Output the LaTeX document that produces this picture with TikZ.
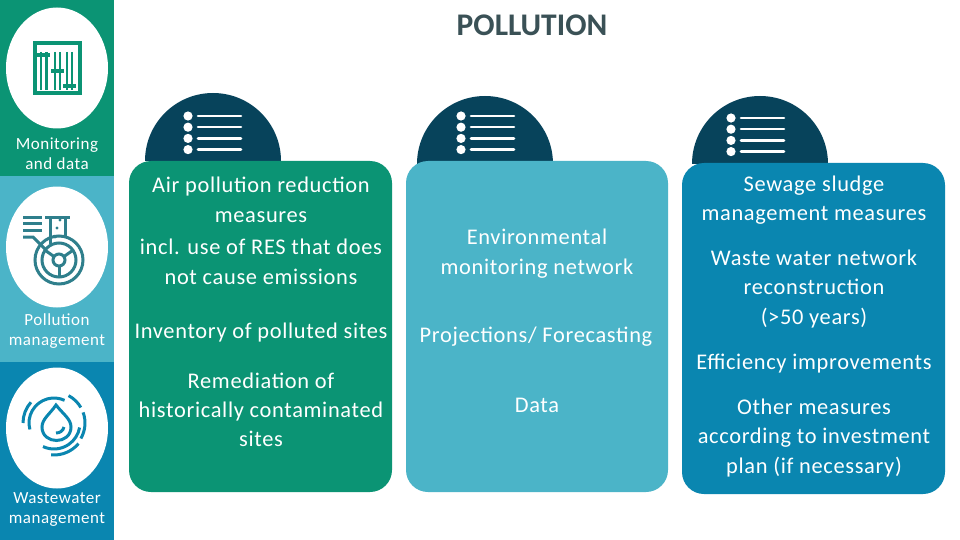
\documentclass[tikz,border=0pt]{standalone}
\usepackage{fontspec}
\setmainfont{Carlito}
\usetikzlibrary{positioning, shapes.geometric}
\definecolor{cgreen}{HTML}{0B9474}
\definecolor{clight}{HTML}{4BB4C8}
\definecolor{cblue}{HTML}{0A86B0}
\definecolor{cdark}{HTML}{07435B}
\definecolor{ctitle}{HTML}{3A5156}
\definecolor{cteal}{HTML}{2F7F8C}
\tikzset{
  panel/.style={fill=#1, rounded corners=22pt},
  band/.style={fill=#1},
  badge/.style={fill=white, ellipse, minimum width=102pt, minimum height=121pt, inner sep=0pt},
  sidetext/.style={font=\fontsize{17}{20}\selectfont\addfontfeature{LetterSpace=3}, text=white, align=center, inner sep=0pt},
  paneltext/.style={font=\fontsize{22.4}{29.3}\selectfont\addfontfeature{LetterSpace=3}, text=white, align=center, inner sep=0pt},
  title/.style={font=\fontsize{31.5}{34}\selectfont\bfseries, text=ctitle, inner sep=0pt},
}
\newcommand{\dome}[4]{
  \fill[cdark] (#1-68,#2) arc[start angle=180, end angle=360, radius=68] -- cycle;
  \foreach \dy in {0,11.2,22.4,33.6} {
    \fill[white] (#3,#4+\dy) circle[radius=4.6];
    \draw[white, line width=2.6pt, line cap=round] (#3+10,#4+\dy) -- (#3+53,#4+\dy);
  }
}
\begin{document}
\begin{tikzpicture}[x=1pt, y=-1pt]
  \useasboundingbox (0,0) rectangle (960,540);
  \fill[white] (0,0) rectangle (960,540);
  % side bands
  \fill[band=cgreen] (0,0) rectangle (114,176);
  \fill[band=clight] (0,176) rectangle (114,362);
  \fill[band=cblue] (0,362) rectangle (114,540);
  \node[badge] (badgeMon) at (57,68) {};
  \node[badge] (badgePol) at (57,247) {};
  \node[badge] (badgeWas) at (57,428) {};
  \node[sidetext] (labelMon) at (57,153.5) {Monitoring\\and data};
  \node[sidetext] (labelPol) at (57,331) {Pollution\\management};
  \node[sidetext] (labelWas) at (57,510) {Wastewater\\management};
  % slider icon
  \draw[cgreen, line width=4pt] (35.3,43) rectangle (80.3,93);
  \foreach \x/\y in {43.7/55,57.5/71,69.5/86} {
    \draw[cgreen, line width=2.2pt] (\x-2.7,52) -- (\x-2.7,90);
    \draw[cgreen, line width=2.2pt] (\x+2.7,52) -- (\x+2.7,90);
    \fill[cgreen] (\x-6.5,\y-2) rectangle (\x+6.5,\y+2);
  }
  % flask icon
  \begin{scope}[cteal, line width=3pt]
    \draw (23,217) -- (42,217) (23,223) -- (42,223) (23,230) -- (42,230);
    \draw (23,237) -- (33,237) -- (46,250);
    \draw (45,217) -- (70,217) (50,217) -- (50,244) (65,217) -- (65,236);
    \draw (59,260) circle[radius=24];
    \draw (59,260) circle[radius=17];
    \draw (59,260) circle[radius=6];
    \foreach \a in {90,215,325} { \draw (59,260) ++(\a:6) -- ++(\a:11); }
    \fill (60,220) circle[radius=1.6] (57,228) circle[radius=1.6] (55,237) circle[radius=1.6];
  \end{scope}
  % drop icon
  \begin{scope}[cblue, line width=3pt]
    \draw (56,405) .. controls (50,414) and (42,419) .. (42,427) .. controls (42,445) and (71,445) .. (71,427) .. controls (71,419) and (63,414) .. (56,405) -- cycle;
    \draw (56,433) .. controls (60,433) and (63,431) .. (64,427);
    \draw (54,423) ++(95:32) arc[start angle=95, end angle=40, radius=32];
    \draw (54,423) ++(30:31) arc[start angle=30, end angle=-20, radius=31];
    \draw (54,423) ++(-30:31) arc[start angle=-30, end angle=-62, radius=31];
    \draw (54,423) ++(115:26) arc[start angle=115, end angle=10, radius=26];
    \draw (54,423) ++(180:31) arc[start angle=180, end angle=222, radius=31];
    \draw (54,423) ++(165:25) arc[start angle=165, end angle=295, radius=25];
  \end{scope}
  % title
  \node[title] (title) at (532,25.5) {POLLUTION};
  % domes
  \dome{213}{161}{188}{116}
  \dome{485}{164}{461}{116}
  \dome{760}{164}{731}{118}
  % panels
  \fill[panel=cgreen] (129,161) rectangle (392,492);
  \fill[panel=clight] (406,161) rectangle (668,492);
  \fill[panel=cblue] (682,163) rectangle (945,494);
  % Air pollution panel
  \node[paneltext, font=\fontsize{22.4}{30}\selectfont\addfontfeature{LetterSpace=3}] (airText) at (261,231) {Air pollution reduction\\measures\\[2pt]incl. use of RES that does\\not cause emissions};
  \node[paneltext] (invText) at (261,333) {Inventory of polluted sites};
  \node[paneltext] (remText) at (261,410) {Remediation of\\historically contaminated\\sites};
  % Monitoring panel
  \node[paneltext] (envText) at (537,253.5) {Environmental\\monitoring network};
  \node[paneltext] (proText) at (536,337) {Projections/ Forecasting};
  \node[paneltext] (datText) at (537,405) {Data};
  % Sewage panel
  \node[paneltext] (sewText) at (814,200) {Sewage sludge\\management measures};
  \node[paneltext] (netText) at (814,289) {Waste water network\\reconstruction\\(>50 years)};
  \node[paneltext] (effText) at (814,364) {Efficiency improvements};
  \node[paneltext] (othText) at (814,438) {Other measures\\according to investment\\plan (if necessary)};
\end{tikzpicture}
\end{document}
